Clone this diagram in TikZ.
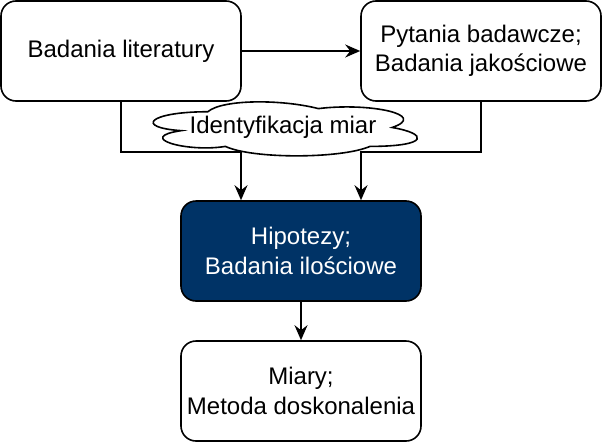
\documentclass[tikz,border=0pt]{standalone}
\usepackage{fontspec}
\setmainfont{Liberation Sans}
\usetikzlibrary{arrows.meta,calc}
\definecolor{granat}{HTML}{003366}

\begin{document}
\begin{tikzpicture}[x=1pt,y=-1pt,
        tekst/.style={font=\fontsize{24}{29.5}\selectfont},
        box/.style={draw,line width=1.6pt,rounded corners=15pt,minimum width=240pt,
            minimum height=100pt,align=center,tekst},
        pol/.style={line width=1.6pt},
        strz/.style={pol,-{Stealth[length=15pt,width=13pt,inset=5pt]}}]

        \useasboundingbox (0,0) rectangle (602,442);

        % 方框
        \node[box] (lit) at (121,51) {Badania literatury};
        \node[box] (pyt) at (481,51) {Pytania badawcze;\\Badania jakościowe};
        \node[box,fill=granat,text=white] (hip) at (301,251) {Hipotezy;\\Badania ilościowe};
        \node[box] (miary) at (301,391) {Miary;\\Metoda doskonalenia};

        % 箭头
        \draw[strz] (lit.east) -- (pyt.west);
        \draw[strz] (lit.south) -- ++(0,50) -| ($(hip.north)+(-60,0)$);
        \draw[strz] (pyt.south) -- ++(0,50) -| ($(hip.north)+(60,0)$);
        \draw[strz] (hip.south) -- (miary.north);

        % 云
        \begin{scope}[shift={(134,96)},x=295pt,y=-63pt]
            \draw[pol,fill=white] (0.25,0.25)
                .. controls (0.05,0.25) and (0,0.5) .. (0.16,0.55)
                .. controls (0,0.66) and (0.18,0.9) .. (0.31,0.8)
                .. controls (0.4,1) and (0.7,1) .. (0.8,0.8)
                .. controls (1,0.8) and (1,0.6) .. (0.875,0.5)
                .. controls (1,0.3) and (0.8,0.1) .. (0.625,0.2)
                .. controls (0.5,0.05) and (0.3,0.05) .. (0.25,0.25) -- cycle;
        \end{scope}
        \node[tekst] (ident) at (283,127) {Identyfikacja miar};
\end{tikzpicture}
\end{document}
